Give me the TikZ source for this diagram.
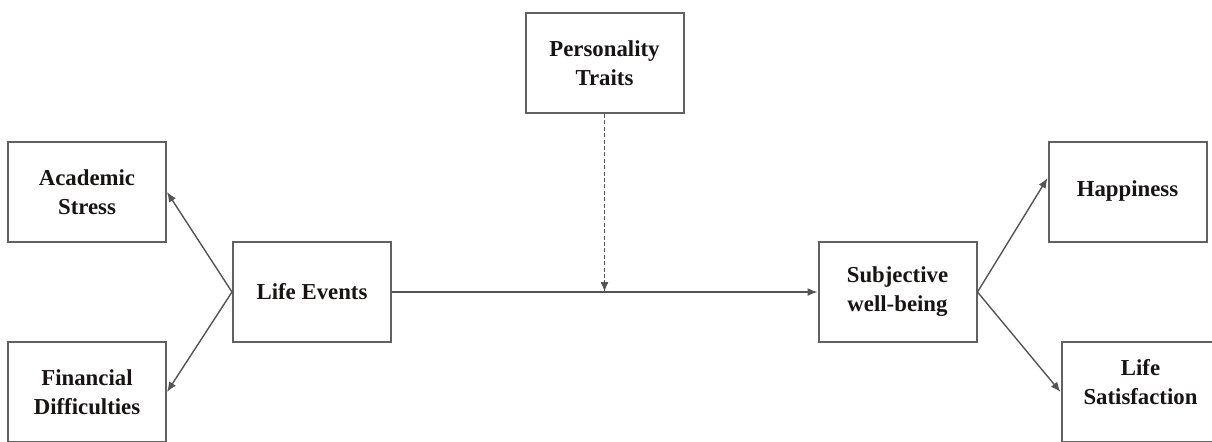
\documentclass[tikz,border=0pt]{standalone}
\usepackage{fontspec}
\setmainfont{Liberation Serif}
\usepackage{xcolor}
\usetikzlibrary{positioning, arrows.meta}

\begin{document}
\begin{tikzpicture}
        [ x=0.5pt, y=-0.5pt
        , blk/.style={draw=border, line width=1pt, minimum width=79pt, minimum height=50pt,
                      align=center, font=\fontsize{11.4}{14.5}\selectfont\bfseries, text=ink}
        , link/.style={-{Latex[length=5pt, width=4pt]}, line width=0.7pt, draw=wire}
        , dlink/.style={link, dashed, dash pattern=on 2pt off 1.2pt}
        ]
        \definecolor{border}{rgb}{0.38,0.38,0.38}
        \definecolor{wire}{rgb}{0.33,0.33,0.33}
        \definecolor{ink}{rgb}{0.1,0.08,0.08}

        \useasboundingbox (0,0) rectangle (1212,441);
        \clip (0,0) rectangle (1212,441);

        \node (life) [blk] at (312,292) {Life Events};
            \node (acad) [blk] at (87,192) {Academic\\Stress};
            \node (fin)  [blk] at (87,392) {Financial\\Difficulties};
        \node (pers) [blk] at (604.5,63) {Personality\\Traits};
        \node (swb)  [blk] at (897.5,292) {Subjective\\well-being};
            \node (happy) [blk, text depth=3pt] at (1127.5,192) {Happiness};
            \node (lsat)  [blk, text depth=10pt] at (1140.5,392) {Life\\Satisfaction};

        \draw[link] (life.west) -- (acad.east);
        \draw[link] (life.west) -- (fin.east);

        \draw[link] (life.east) -- (swb.west);
        \coordinate (mod) at (pers.south |- life.east);
        \draw[dlink] (pers.south) -- (mod);

        \draw[link] (swb.east) -- ([yshift=7pt]happy.west);
        \draw[link] (swb.east) -- (lsat.west);

    \end{tikzpicture}
\end{document}
